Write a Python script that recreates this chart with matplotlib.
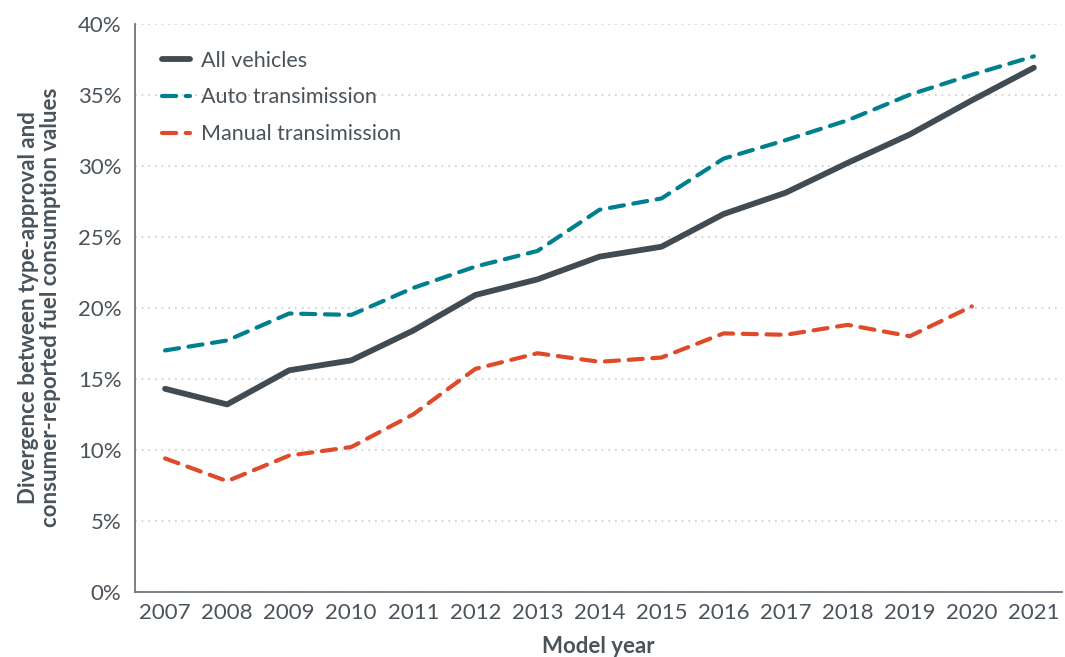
import numpy as np
import matplotlib.pyplot as plt
from matplotlib.ticker import FuncFormatter

# Werte (in %)
years = np.arange(2007, 2022)
all_vehicles = [14.3, 13.2, 15.6, 16.3, 18.4, 20.9, 22.0, 23.6, 24.3, 26.6, 28.1, 30.2, 32.2, 34.6, 36.9]
auto_trans = [17.0, 17.7, 19.6, 19.5, 21.4, 22.9, 24.0, 26.9, 27.7, 30.5, 31.8, 33.2, 35.0, 36.4, 37.7]
manual_trans = [9.4, 7.8, 9.6, 10.2, 12.5, 15.7, 16.8, 16.2, 16.5, 18.2, 18.1, 18.8, 18.0, 20.1]
y_ticks = [0, 5, 10, 15, 20, 25, 30, 35, 40]

txt = '#4a525a'
plt.rcParams['font.family'] = ['Lato', 'DejaVu Sans']

fig = plt.figure(figsize=(10.65, 6.57), dpi=100)
ax = fig.add_axes([0.127, 0.099, 0.870, 0.865])

ax.plot(years, all_vehicles, color='#414b54', lw=4.2, solid_capstyle='round',
        label='All vehicles', zorder=3)
ax.plot(years, auto_trans, color='#00808e', lw=3, dashes=(3.4, 2.3),
        dash_capstyle='round', label='Auto transimission', zorder=3)
ax.plot(years[:len(manual_trans)], manual_trans, color='#dd4b2a', lw=3,
        dashes=(3.4, 2.3), dash_capstyle='round', label='Manual transimission', zorder=3)

ax.set_xlim(2006.52, 2021.45)
ax.set_ylim(0, 40)
ax.set_xticks(years)
ax.set_yticks(y_ticks)
ax.yaxis.set_major_formatter(FuncFormatter(lambda v, p: f'{int(v)}%'))
ax.tick_params(length=0, labelsize=16, colors=txt, pad=8)
ax.tick_params(axis='y', pad=10)

ax.grid(axis='y', color='#cccccc', linestyle=(0, (1, 3)), lw=1.2)
ax.set_axisbelow(True)
for s in ['top', 'right']:
    ax.spines[s].set_visible(False)
for s in ['left', 'bottom']:
    ax.spines[s].set_color('#70767c')
    ax.spines[s].set_linewidth(1.3)

ax.set_xlabel('Model year', fontsize=16, fontweight='bold', color=txt, labelpad=9)
ax.set_ylabel('Divergence between type-approval and\nconsumer-reported fuel consumption values',
              fontsize=16, fontweight='bold', color=txt, labelpad=12, linespacing=1.05)

leg = ax.legend(loc='upper left', bbox_to_anchor=(0.0, 1.0), frameon=False,
                fontsize=15.5, handlelength=1.3, handletextpad=0.5, labelspacing=0.78,
                borderaxespad=0.85)
for t in leg.get_texts():
    t.set_color(txt)

fig.savefig('out.png', dpi=100)
